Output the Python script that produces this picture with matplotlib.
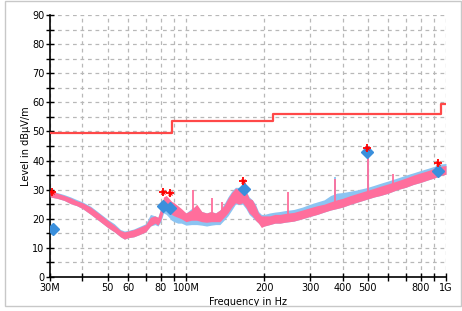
import numpy as np
import matplotlib
matplotlib.use("Agg")
import matplotlib.pyplot as plt
from matplotlib.patches import Rectangle
from matplotlib.ticker import FixedLocator, NullFormatter

# spectrum envelope (MHz, dBuV/m)
freq_mhz = [30, 32, 34, 36, 38, 40, 43, 46, 50, 53, 56, 58, 60, 63, 66, 70, 73, 76, 78,
            80, 82, 84, 86, 88, 90, 93, 96, 100, 105, 110, 115, 120, 125, 130, 135, 140,
            145, 150, 155, 160, 165, 170, 175, 180, 185, 190, 195, 200, 210, 220, 230,
            240, 260, 280, 300, 320, 340, 360, 380, 400, 430, 460, 500, 530, 560, 600,
            650, 700, 750, 800, 850, 900, 950, 1000]
pink_lo = [27.5, 27.0, 26.3, 25.2, 24.5, 23.5, 21.5, 19.5, 17.0, 15.5, 13.8, 13.0, 13.5,
           13.8, 14.5, 15.5, 17.5, 18.5, 17.8, 19.5, 23.0, 23.5, 22.5, 21.5, 21.0, 20.5,
           20.0, 19.0, 19.5, 19.5, 19.0, 18.8, 19.0, 19.0, 19.0, 20.5, 22.0, 24.0, 25.5,
           25.0, 25.5, 24.0, 22.0, 21.0, 19.5, 18.5, 17.0, 17.5, 18.0, 18.5, 18.5, 18.8,
           19.2, 20.0, 20.8, 21.5, 22.3, 23.0, 23.5, 24.0, 25.0, 25.8, 26.8, 27.5, 28.0,
           28.8, 30.0, 30.8, 31.8, 32.5, 33.3, 34.0, 34.8, 35.3]
pink_hi = [29.5, 28.8, 28.0, 27.2, 26.2, 25.5, 24.0, 22.0, 19.5, 17.8, 16.0, 15.5, 15.8,
           16.3, 17.0, 18.0, 20.5, 21.0, 20.5, 23.5, 27.5, 28.0, 27.0, 26.0, 25.5, 24.5,
           23.5, 22.0, 23.0, 25.0, 22.5, 22.0, 22.5, 22.0, 23.0, 24.5, 27.0, 29.0, 30.5,
           30.0, 30.5, 29.5, 27.0, 26.5, 24.5, 22.0, 21.0, 21.0, 21.0, 21.5, 21.5, 21.8,
           22.2, 23.0, 23.8, 24.5, 25.0, 25.8, 26.5, 27.0, 28.0, 28.8, 29.8, 30.5, 31.2,
           32.0, 33.0, 34.0, 35.0, 35.8, 36.5, 37.3, 38.0, 38.3]
blue_lo = [27.5, 27.0, 26.3, 25.2, 24.5, 23.5, 21.5, 19.5, 17.0, 15.5, 13.8, 13.0, 13.5,
           13.8, 14.5, 15.5, 17.5, 18.0, 17.5, 19.0, 22.0, 21.5, 20.5, 19.5, 19.0, 18.5,
           18.5, 17.8, 18.0, 18.0, 17.8, 17.5, 17.8, 18.0, 18.0, 19.5, 21.0, 23.0, 25.0,
           25.0, 25.0, 23.5, 21.5, 20.5, 19.5, 18.5, 17.5, 17.5, 18.0, 18.5, 18.5, 18.8,
           19.2, 20.0, 20.8, 21.5, 22.3, 23.0, 23.5, 24.0, 25.0, 25.8, 26.8, 27.5, 28.0,
           28.8, 30.0, 30.8, 31.8, 32.5, 33.3, 34.0, 34.8, 35.3]
blue_hi = [29.8, 29.0, 28.3, 27.5, 26.6, 25.8, 24.3, 22.3, 19.8, 18.3, 16.3, 15.8, 16.0,
           16.5, 17.3, 18.3, 21.5, 21.0, 20.5, 23.5, 26.5, 26.5, 25.5, 24.5, 24.0, 23.5,
           23.0, 22.0, 23.5, 24.5, 22.5, 22.0, 22.5, 22.0, 23.0, 25.0, 27.5, 29.5, 30.8,
           30.8, 30.8, 29.5, 27.5, 26.5, 25.0, 22.5, 21.5, 21.5, 22.0, 22.3, 22.5, 22.8,
           23.2, 24.0, 25.0, 25.8, 26.5, 28.0, 28.8, 29.0, 29.5, 30.0, 30.8, 31.5, 32.2,
           33.0, 34.0, 35.0, 35.8, 36.6, 37.3, 38.0, 38.8, 39.0]

# narrow spikes
pink_spike_freq = [106.7, 125.5, 137.5, 247, 373, 500, 627]
pink_spike_level = [29.9, 27.1, 25.9, 29.3, 33.8, 42.5, 35.5]
blue_spike_freq = [373, 500]
blue_spike_level = [34.5, 43.0]

# final measurement markers
peak_freq = [30.6, 81.8, 86.7, 166, 498, 934]
peak_level = [29.3, 29.3, 29.0, 33.1, 44.2, 39.3]
qp_freq = [30.9, 81.5, 86.7, 167.9, 498, 934]
qp_level = [16.4, 24.4, 23.6, 30.2, 42.9, 36.5]

# limit line
limit_freq = [30, 88, 216, 960, 1000]
limit_level = [49.3, 53.5, 56.0, 59.5, 59.5]

major_ticks = [30, 50, 60, 80, 100, 200, 300, 400, 500, 800, 1000]
major_labels = ["30M", "50", "60", "80", "100M", "200", "300", "400", "500", "800", "1G"]
minor_ticks = [40, 70, 90, 600, 700, 900]

PINK = "#ff6e9c"
BLUE = "#8cc4f2"
DIAMOND = "#3a8fdc"
LIMIT = "#ff4848"

fig = plt.figure(figsize=(4.62, 3.11), dpi=100)
fig.patches.append(Rectangle((5 / 462, 5 / 311), 456 / 462, 305 / 311,
                             transform=fig.transFigure, fill=False,
                             edgecolor="#c8c8c8", lw=1))
ax = fig.add_axes([50 / 462, 34 / 311, 396 / 462, 262 / 311])

f = np.array(freq_mhz) * 1e6
ax.fill_between(f, blue_lo, blue_hi, color=BLUE, lw=0, zorder=2)
ax.fill_between(f, pink_lo, pink_hi, color=PINK, lw=0, zorder=3)

logf = np.log10(f)
bs = np.array(blue_spike_freq) * 1e6
ax.vlines(bs, np.interp(np.log10(bs), logf, blue_lo), blue_spike_level,
          color=BLUE, lw=1.3, zorder=2)
ps = np.array(pink_spike_freq) * 1e6
ax.vlines(ps, np.interp(np.log10(ps), logf, pink_lo), pink_spike_level,
          color=PINK, lw=1.3, zorder=3)

ax.step(np.array(limit_freq) * 1e6, limit_level, where="post", color=LIMIT, lw=1.6, zorder=4)

ax.plot(np.array(qp_freq) * 1e6, qp_level, "D", color=DIAMOND, ms=6, mec=DIAMOND, zorder=5)
ax.plot(np.array(peak_freq) * 1e6, peak_level, "+", color="red", ms=6, mew=1.3, zorder=6)
ax.plot(np.array(peak_freq) * 1e6, peak_level, "x", color="red", ms=3, mew=0.8, zorder=6)

ax.set_xscale("log")
ax.set_xlim(30e6, 1e9)
ax.set_ylim(0, 90)

ax.xaxis.set_major_locator(FixedLocator([t * 1e6 for t in major_ticks]))
ax.set_xticklabels(major_labels)
ax.xaxis.set_minor_locator(FixedLocator([t * 1e6 for t in minor_ticks]))
ax.xaxis.set_minor_formatter(NullFormatter())
ax.set_yticks(range(0, 91, 10))
ax.set_yticks(range(5, 90, 10), minor=True)

ax.tick_params(which="both", direction="inout", length=6, width=1, labelsize=7, pad=1)
ax.grid(True, which="both", linestyle=(0, (3, 3)), color="#b8b8b8", lw=0.9)
ax.set_axisbelow(True)

for side in ("top", "right"):
    ax.spines[side].set_visible(False)
for side in ("left", "bottom"):
    ax.spines[side].set_linewidth(1.2)

ax.set_xlabel("Frequency in Hz", fontsize=7, labelpad=3)
ax.set_ylabel("Level in dBµV/m", fontsize=7, labelpad=1)

fig.savefig("out.png", dpi=100)
